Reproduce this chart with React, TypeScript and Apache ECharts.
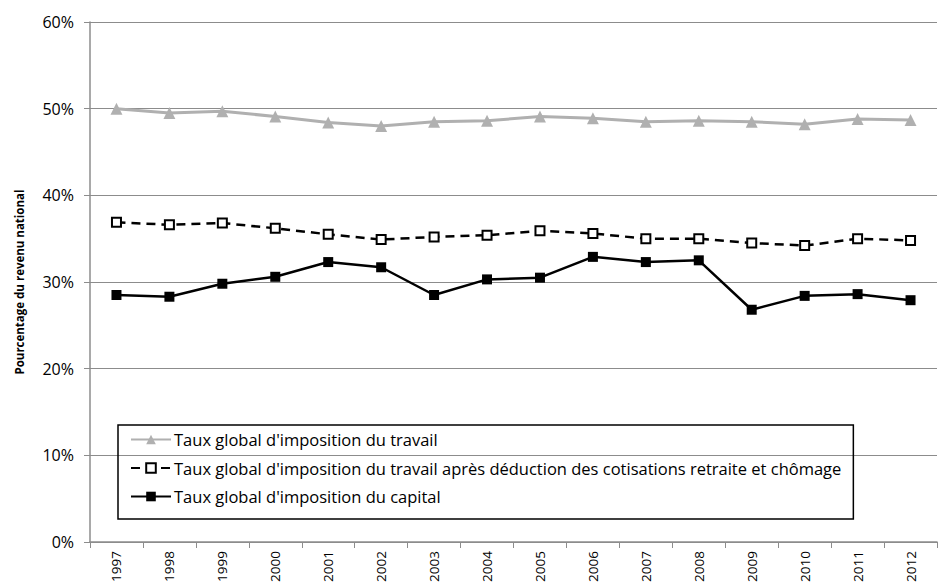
import React, { useEffect, useRef } from "react";
import * as echarts from "echarts";

const years = ["1997","1998","1999","2000","2001","2002","2003","2004","2005","2006","2007","2008","2009","2010","2011","2012"];
const travail = [50.0, 49.5, 49.7, 49.1, 48.4, 48.0, 48.5, 48.6, 49.1, 48.9, 48.5, 48.6, 48.5, 48.2, 48.8, 48.7];
const travailNet = [36.9, 36.6, 36.8, 36.2, 35.5, 34.9, 35.2, 35.4, 35.9, 35.6, 35.0, 35.0, 34.5, 34.2, 35.0, 34.8];
const capital = [28.5, 28.3, 29.8, 30.6, 32.3, 31.7, 28.5, 30.3, 30.5, 32.9, 32.3, 32.5, 26.8, 28.4, 28.6, 27.9];
const seriesNames = [
  "Taux global d'imposition du travail",
  "Taux global d'imposition du travail après déduction des cotisations retraite et chômage",
  "Taux global d'imposition du capital",
];

const FONT = "Open Sans";

export default function App() {
  const ref = useRef<HTMLDivElement>(null);
  useEffect(() => {
    if (!ref.current) return;
    const chart = echarts.init(ref.current, undefined, { renderer: "svg" });
    chart.setOption({
      animation: false,
      textStyle: { fontFamily: FONT },
      grid: { left: 90, right: 10, top: 22, bottom: 46 },
      legend: {
        orient: "vertical",
        left: 118,
        top: 425,
        itemWidth: 40,
        itemHeight: 12,
        itemGap: 11.5,
        padding: [6, 12, 14, 12],
        borderColor: "#000",
        borderWidth: 1.5,
        textStyle: { fontFamily: FONT, fontSize: 16.5, color: "#000", padding: [0, 0, 0, -2] },
        data: seriesNames,
      },
      xAxis: {
        type: "category",
        data: years,
        boundaryGap: true,
        axisLine: { lineStyle: { color: "#8c8c8c", width: 1.5 } },
        axisTick: { show: true, alignWithLabel: false, length: 6, lineStyle: { color: "#8c8c8c" } },
        axisLabel: { rotate: 90, fontFamily: FONT, fontSize: 13.5, color: "#000", margin: 9 },
      },
      yAxis: {
        type: "value",
        min: 0,
        max: 60,
        interval: 10,
        name: "Pourcentage du revenu national",
        nameLocation: "middle",
        nameGap: 65,
        nameMoveOverlap: false,
        nameTextStyle: { fontFamily: FONT, fontSize: 11.5, fontWeight: "bold", color: "#000" },
        axisLine: { show: true, lineStyle: { color: "#8c8c8c", width: 1.5 } },
        axisTick: { show: true, length: 6, lineStyle: { color: "#8c8c8c" } },
        axisLabel: { formatter: "{value}%", fontFamily: FONT, fontSize: 16, color: "#000", margin: 16 },
        splitLine: { show: true, lineStyle: { color: "#8c8c8c", width: 1.2 } },
      },
      series: [
        {
          name: seriesNames[0],
          type: "line",
          data: travail,
          symbol: "triangle",
          symbolSize: 12,
          itemStyle: { color: "#b0b0b0" },
          lineStyle: { color: "#b0b0b0", width: 3 },
        },
        {
          name: seriesNames[1],
          type: "line",
          data: travailNet,
          symbol: "rect",
          symbolSize: 9,
          itemStyle: { color: "#fff", borderColor: "#000", borderWidth: 2 },
          lineStyle: { color: "#000", width: 2.5, type: [9, 6] },
        },
        {
          name: seriesNames[2],
          type: "line",
          data: capital,
          symbol: "rect",
          symbolSize: 10,
          itemStyle: { color: "#000" },
          lineStyle: { color: "#000", width: 2.5 },
        },
      ],
    });
    return () => chart.dispose();
  }, []);
  return <div ref={ref} style={{ width: 947, height: 588, position: "absolute", left: 0, top: 0 }} />;
}
